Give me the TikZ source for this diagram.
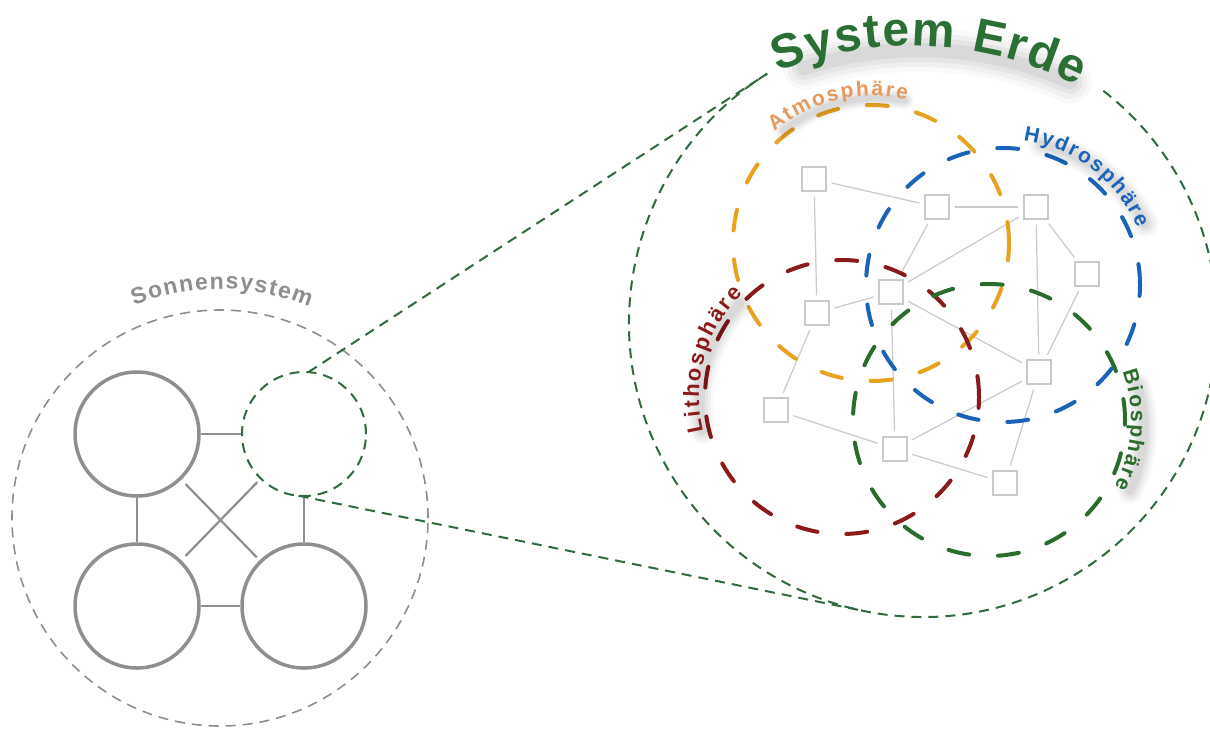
\documentclass[tikz,border=0pt]{standalone}
\usepackage{fontspec}
\newfontfamily\labfont{Liberation Sans}
\usetikzlibrary{decorations.text,calc}
\definecolor{planetgray}{HTML}{8F8F8F}
\definecolor{netgray}{HTML}{CACACA}
\definecolor{egreen}{HTML}{2F6B3C}
\definecolor{titlegreen}{HTML}{2B6F35}
\definecolor{atmodash}{HTML}{E9A21F}
\definecolor{atmotext}{HTML}{E8995E}
\definecolor{hydro}{HTML}{1B63B8}
\definecolor{litho}{HTML}{8A1B1B}
\definecolor{bio}{HTML}{2A6C2C}
\definecolor{sonne}{HTML}{8E8E8E}
\newcommand{\arcshadow}[5]{%
  % #1 centre, #2 radius, #3 start, #4 end, #5 width scale
  \foreach \w/\o in {36/0.025,28/0.035,20/0.045,12/0.05}{
    \draw[line width=#5*\w pt, black, opacity=\o, line cap=round]
      ($(#1)+(#3:#2pt)+(7,-8)$) arc[start angle=#3, end angle=#4, radius=#2pt];
  }%
}
\newcommand{\arclabel}[7]{%
  % #1 centre, #2 radius, #3 start, #4 end, #5 size, #6 colour, #7 text
  \path[decorate, decoration={text along path,
      text={|\labfont\bfseries\fontsize{#5}{#5}\selectfont|#7},
      text color=#6, text align=fit to path}]
    ($(#1)+(#3:#2pt)$) arc[start angle=#3, end angle=#4, radius=#2pt];%
}
\begin{document}
\begin{tikzpicture}[x=1pt,y=1pt,
  sq/.style={rectangle, draw=netgray, line width=1.4pt, fill=white, minimum size=24pt, inner sep=0pt},
  net/.style={draw=netgray, line width=1.2pt, shorten <=5pt, shorten >=5pt},
  planet/.style={circle, draw=planetgray, line width=3.5pt, minimum size=124pt, inner sep=0pt},
  plink/.style={draw=planetgray, line width=2.2pt},
  thindash/.style={line width=2pt, dash pattern=on 10pt off 7pt},
  sphere/.style={line width=4pt, dash pattern=on 21pt off 29pt, line cap=round}]
\fill[white] (0,0) rectangle (1210,-729);
\useasboundingbox (0,0) rectangle (1210,-729);

% ---------- Sonnensystem ----------
\coordinate (sun) at (220,-518);
\draw[sonne, line width=1.6pt, dash pattern=on 10pt off 7pt] (sun) circle[radius=208pt];
\node[planet] (tl) at (137,-434) {};
\node[planet] (bl) at (137,-606) {};
\node[planet] (br) at (304,-606) {};
\node[circle, draw=egreen, thindash, minimum size=124pt, inner sep=0pt] (earth) at (304,-434) {};
\draw[plink] (tl) -- (earth);
\draw[plink] (tl) -- (bl);
\draw[plink] (earth) -- (br);
\draw[plink] (bl) -- (br);
\draw[plink, shorten <=6pt, shorten >=4pt] (tl) -- (br);
\draw[plink, shorten <=6pt, shorten >=4pt] (bl) -- (earth);
\arclabel{sun}{229}{112}{67}{23}{sonne}{Sonnensystem}

% ---------- System Erde outline and zoom lines ----------
\coordinate (bigc) at (923,-323);
\draw[egreen, thindash] ($(bigc)+(122:294pt)$) arc[start angle=122, end angle=413.4, radius=294pt];
\coordinate (t1) at ($(earth.center)+(86:62pt)$);
\coordinate (T1) at ($(bigc)+(122:294pt)$);
\coordinate (t2) at ($(earth.center)+(-95:62pt)$);
\coordinate (T2) at ($(bigc)+(-101.4:294pt)$);
\draw[egreen, thindash] (t1) -- (T1);
\draw[egreen, thindash] (t2) -- (T2);

% ---------- network ----------
\node[sq] (s1) at (814,-179) {};
\node[sq] (s2) at (937,-207) {};
\node[sq] (s3) at (1036,-207) {};
\node[sq] (s4) at (1087,-274) {};
\node[sq] (s5) at (891,-292) {};
\node[sq] (s6) at (817,-313) {};
\node[sq] (s7) at (1039,-372) {};
\node[sq] (s8) at (776,-410) {};
\node[sq] (s9) at (895,-449) {};
\node[sq] (s10) at (1005,-483) {};
\draw[net] (s1) -- (s2);
\draw[net] (s1) -- (s6);
\draw[net] (s2) -- (s3);
\draw[net] (s2) -- (s5);
\draw[net] (s3) -- (s4);
\draw[net] (s3) -- (s5);
\draw[net] (s3) -- (s7);
\draw[net] (s4) -- (s7);
\draw[net] (s5) -- (s6);
\draw[net] (s5) -- (s7);
\draw[net] (s5) -- (s9);
\draw[net] (s6) -- (s8);
\draw[net] (s8) -- (s9);
\draw[net] (s9) -- (s7);
\draw[net] (s9) -- (s10);
\draw[net] (s7) -- (s10);

% ---------- spheres ----------
\coordinate (atmo) at (871,-243);
\coordinate (hydro) at (1003,-285);
\coordinate (litho) at (842,-397);
\coordinate (bio) at (989,-420);
\draw[sphere, atmodash] (atmo) circle[radius=138pt];
\draw[sphere, hydro] (hydro) circle[radius=137pt];
\draw[sphere, litho] (litho) circle[radius=137pt];
\draw[sphere, bio] (bio) circle[radius=136pt];

% ---------- label shadows ----------
\arcshadow{atmo}{153}{128}{80}{0.55}
\arcshadow{hydro}{152}{78}{27}{0.75}
\arcshadow{litho}{149}{190}{137}{0.75}
\arcshadow{bio}{148}{17}{-25}{0.75}
\arcshadow{912,-414}{372}{108}{66}{1.2}

% ---------- labels ----------
\arclabel{atmo}{147}{131}{76}{21}{atmotext}{Atmosphäre}
\arclabel{hydro}{146}{82}{23}{21}{hydro}{Hydrosphäre}
\arclabel{litho}{143}{194}{134}{22}{litho}{Lithosphäre}
\arclabel{bio}{142}{20}{-28}{21}{bio}{Biosphäre}
\arclabel{912,-414}{368}{111.5}{63.2}{48}{titlegreen}{System Erde}
\end{tikzpicture}
\end{document}
